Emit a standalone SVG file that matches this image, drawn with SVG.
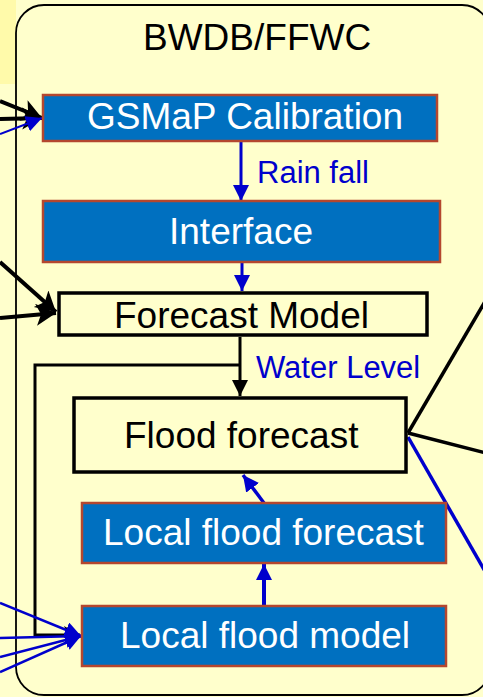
<svg xmlns="http://www.w3.org/2000/svg" width="483" height="697" viewBox="0 0 483 697">
<defs>
<style>
.bluebox{fill:#0070C0;stroke:#B4472F;stroke-width:2.5}
.whitebox{fill:#FFFFCC;stroke:#000;stroke-width:3.5}
.wt{font-family:"Liberation Sans",Arial,sans-serif;font-size:37px;fill:#FFFFFF}
.bt{font-family:"Liberation Sans",Arial,sans-serif;font-size:37px;fill:#000000}
.lbl{font-family:"Liberation Sans",Arial,sans-serif;font-size:31px;fill:#0000CC}
.bl{stroke:#0000CC;fill:none}
.bk{stroke:#000;fill:none}
</style>
<marker id="ab" markerUnits="userSpaceOnUse" markerWidth="18" markerHeight="18" refX="16" refY="8" orient="auto"><path d="M0,0 L16,8 L0,16 z" fill="#0000CC"/></marker>
<marker id="akt" markerUnits="userSpaceOnUse" markerWidth="18" markerHeight="18" refX="16" refY="8" orient="auto"><path d="M0,0 L16,8 L0,16 z" fill="#000"/></marker>
<marker id="ak" markerUnits="userSpaceOnUse" markerWidth="20" markerHeight="20" refX="16" refY="9" orient="auto"><path d="M0,0 L16,9 L0,18 L4,9 z" fill="#000"/></marker>
<marker id="akb" markerUnits="userSpaceOnUse" markerWidth="24" markerHeight="24" refX="20" refY="11" orient="auto"><path d="M0,0 L20,11 L0,22 L5,11 z" fill="#000"/></marker>
</defs>
<rect x="0" y="0" width="483" height="697" fill="#FFFFCC"/>
<rect x="0" y="0" width="16" height="84" fill="#FFFAAA"/>
<rect id="panel" x="16" y="5" width="474" height="690" rx="28" ry="28" fill="#FFFFCC" stroke="#000" stroke-width="1.8"/>
<text x="143" y="50" class="bt">BWDB/FFWC</text>

<g id="connectors">
<line class="bl" x1="241" y1="142" x2="241" y2="201" stroke-width="3" marker-end="url(#ab)"/>
<line class="bl" x1="242" y1="263" x2="242" y2="291" stroke-width="3" marker-end="url(#ab)"/>
<line class="bk" x1="240" y1="337" x2="240" y2="396" stroke-width="3" marker-end="url(#akt)"/>
<polyline class="bk" points="240,365 35,365 35,635 80,635" stroke-width="3" marker-end="url(#ak)"/>
<line class="bl" x1="264" y1="606" x2="264" y2="564" stroke-width="4" marker-end="url(#ab)"/>
<line class="bl" x1="264" y1="503" x2="243" y2="475" stroke-width="3.5" marker-end="url(#ab)"/>
<line class="bk" x1="408" y1="433" x2="490" y2="293" stroke-width="3.5"/>
<line class="bk" x1="408" y1="433" x2="490" y2="454" stroke-width="3.5"/>
<line class="bl" x1="408" y1="437" x2="490" y2="580" stroke-width="3.5"/>
<line class="bk" x1="0" y1="101" x2="42" y2="118" stroke-width="4" marker-end="url(#akb)"/>
<line class="bk" x1="0" y1="119" x2="42" y2="118" stroke-width="4" marker-end="url(#akb)"/>
<line class="bl" x1="0" y1="134" x2="42" y2="118" stroke-width="2" marker-end="url(#ab)"/>
<line class="bk" x1="0" y1="262" x2="56" y2="312" stroke-width="4" marker-end="url(#akb)"/>
<line class="bk" x1="0" y1="318" x2="56" y2="313" stroke-width="4" marker-end="url(#akb)"/>
<line class="bl" x1="0" y1="603" x2="81" y2="636" stroke-width="2.5" marker-end="url(#ab)"/>
<line class="bl" x1="0" y1="638" x2="81" y2="636" stroke-width="2.5" marker-end="url(#ab)"/>
<line class="bl" x1="0" y1="657" x2="81" y2="636" stroke-width="2.5" marker-end="url(#ab)"/>
<line class="bl" x1="0" y1="672" x2="81" y2="636" stroke-width="2.5" marker-end="url(#ab)"/>
</g>

<g id="gsmap"><rect class="bluebox" x="43" y="95" width="394" height="46"/><text x="87" y="129" class="wt">GSMaP Calibration</text></g>
<text id="rainfall" x="257" y="183" class="lbl">Rain fall</text>
<g id="interface"><rect class="bluebox" x="43" y="201" width="397" height="61"/><text x="169" y="244" class="wt">Interface</text></g>
<g id="forecastmodel"><rect class="whitebox" x="59" y="293" width="368" height="42"/><text x="114" y="328" class="bt">Forecast Model</text></g>
<text id="waterlevel" x="256" y="378" class="lbl">Water Level</text>
<g id="floodforecast"><rect class="whitebox" x="74" y="398" width="332" height="74"/><text x="124" y="448" class="bt">Flood forecast</text></g>
<g id="localforecast"><rect class="bluebox" x="82" y="503" width="364" height="60"/><text x="103" y="545" class="wt">Local flood forecast</text></g>
<g id="localmodel"><rect class="bluebox" x="82" y="606" width="364" height="60"/><text x="120" y="648" class="wt">Local flood model</text></g>
</svg>
